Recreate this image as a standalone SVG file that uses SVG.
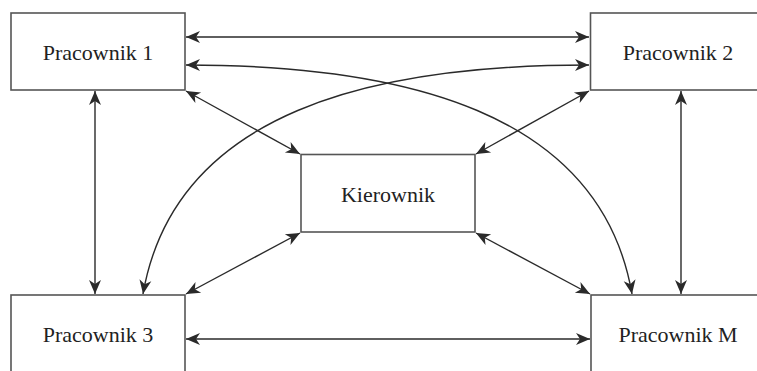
<svg xmlns="http://www.w3.org/2000/svg" width="757" height="371" viewBox="0 0 757 371">
<defs>
<style>
.box{fill:#fff;stroke:#555;stroke-width:1.6}
.lbl{font-family:"Liberation Serif","Times New Roman",serif;font-size:22px;fill:#222;text-anchor:middle}
.c{fill:none;stroke:#2a2a2a;stroke-width:1.4;marker-start:url(#ah);marker-end:url(#ah)}
</style>
<marker id="ah" markerUnits="userSpaceOnUse" markerWidth="16" markerHeight="14" viewBox="-15 -7 16 14" refX="0" refY="0" orient="auto-start-reverse">
<path d="M0,0 L-14,-6 L-10,0 L-14,6 Z" fill="#2a2a2a"/>
</marker>
</defs>
<rect width="757" height="371" fill="#fff"/>
<g id="connectors">
<path class="c" d="M186,37 L589,37"/>
<path class="c" d="M186,65 C400,65 600,110 632,294"/>
<path class="c" d="M589,65 C375,65 175,110 143,294"/>
<path class="c" d="M186,91 L300,154"/>
<path class="c" d="M589,91 L476,154"/>
<path class="c" d="M186,294 L300,233"/>
<path class="c" d="M590,294 L476,233"/>
<path class="c" d="M95,91 L95,294"/>
<path class="c" d="M681,91 L681,294"/>
<path class="c" d="M186,339 L590,339"/>
</g>
<g id="pracownik1"><rect class="box" x="11" y="13" width="174" height="77"/><text class="lbl" x="98" y="60">Pracownik 1</text></g>
<g id="pracownik2"><rect class="box" x="590.5" y="13" width="200" height="77"/><text class="lbl" x="678" y="60">Pracownik 2</text></g>
<g id="kierownik"><rect class="box" x="301" y="154.5" width="174" height="77.5"/><text class="lbl" x="388" y="202">Kierownik</text></g>
<g id="pracownik3"><rect class="box" x="11" y="295" width="174" height="100"/><text class="lbl" x="98" y="342">Pracownik 3</text></g>
<g id="pracownikM"><rect class="box" x="591" y="295" width="200" height="100"/><text class="lbl" x="678" y="342">Pracownik M</text></g>
</svg>
